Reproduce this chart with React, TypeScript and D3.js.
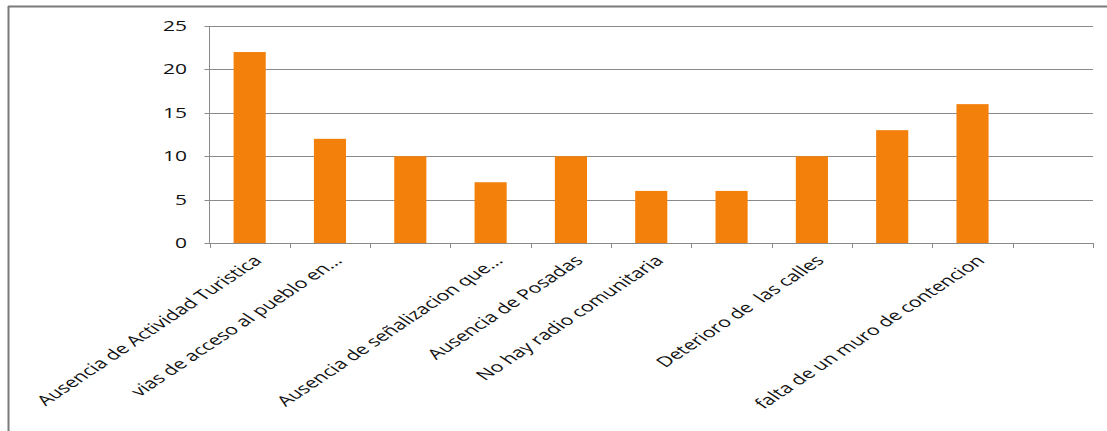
import React from "react";
import * as d3 from "d3";

const categories: string[] = [
  "Ausencia de Actividad Turistica",
  "vias de acceso al pueblo en...",
  "",
  "Ausencia de señalizacion que...",
  "Ausencia de Posadas",
  "No hay radio comunitaria",
  "",
  "Deterioro de  las calles",
  "",
  "falta de un muro de contencion",
  "",
];
const values: (number | null)[] = [22, 12, 10, 7, 10, 6, 6, 10, 13, 16, null];
const yTicks: number[] = [0, 5, 10, 15, 20, 25];

const W = 1107;
const H = 431;
const left = 209.5;
const right = 1093;
const top = 26;
const bottom = 243;
const SX = 1.5;
const gridColor = "#8a8a8a";
const barColor = "#F4800C";

export default function App() {
  const x = d3
    .scaleBand<number>()
    .domain(categories.map((_, i) => i))
    .range([left, right])
    .paddingInner(0.6)
    .paddingOuter(0.3);
  const y = d3.scaleLinear().domain([0, 25]).range([bottom, top]);
  const step = x.step();
  const bounds = d3.range(categories.length + 1).map((i) => left + i * step);

  return (
    <svg
      width={W}
      height={H}
      style={{ position: "absolute", left: 0, top: 0, background: "#fff" }}
    >
      {/* outer frame */}
      <line x1={8} x2={W} y1={6.5} y2={6.5} stroke="#7a7a7a" strokeWidth={2} />
      <line x1={8.5} x2={8.5} y1={6} y2={H} stroke="#7a7a7a" strokeWidth={2} />

      {/* gridlines */}
      {yTicks.map((t) => (
        <g key={t}>
          <line
            x1={left - 5}
            x2={right}
            y1={Math.round(y(t)) + 0.5}
            y2={Math.round(y(t)) + 0.5}
            stroke={gridColor}
            strokeWidth={1}
          />
          <text
            transform={`translate(187,${y(t)}) scale(${SX},1)`}
            textAnchor="end"
            dy="0.35em"
            fontFamily="'Open Sans', sans-serif"
            fontSize={14}
            fill="#111"
          >
            {t}
          </text>
        </g>
      ))}
      {/* y axis */}
      <line x1={left} x2={left} y1={top} y2={bottom} stroke={gridColor} strokeWidth={1} />
      {/* category ticks */}
      {bounds.map((b, i) => (
        <line
          key={i}
          x1={Math.round(b) + 0.5}
          x2={Math.round(b) + 0.5}
          y1={bottom}
          y2={bottom + 5}
          stroke={gridColor}
          strokeWidth={1}
        />
      ))}

      {/* bars */}
      {values.map((v, i) =>
        v == null ? null : (
          <rect
            key={i}
            x={x(i)!}
            y={y(v)}
            width={x.bandwidth()}
            height={bottom - y(v)}
            fill={barColor}
          />
        )
      )}

      {/* category labels */}
      {categories.map((c, i) =>
        c ? (
          <text
            key={i}
            transform={`translate(${x(i)! + x.bandwidth() / 2 + 8},${bottom + 15}) scale(${SX},1) rotate(-45)`}
            textAnchor="end"
            dy="0.35em"
            fontFamily="'Open Sans', sans-serif"
            fontSize={14.3}
            fill="#111"
            style={{ whiteSpace: "pre" }}
          >
            {c}
          </text>
        ) : null
      )}
    </svg>
  );
}
